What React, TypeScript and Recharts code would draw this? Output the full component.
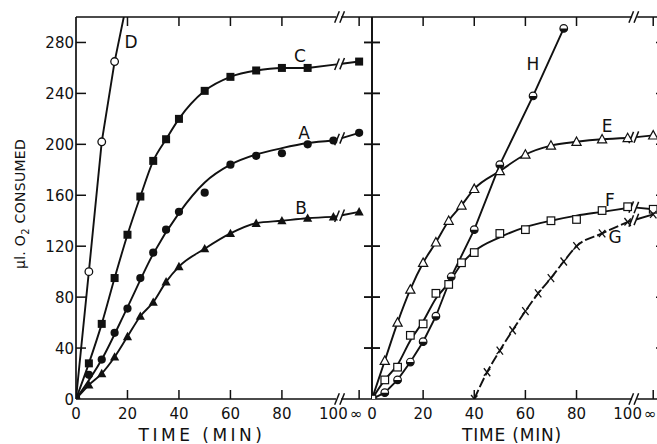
import React from 'react';
import { LineChart, Line, XAxis, YAxis, ReferenceLine } from 'recharts';

// 110 on the time axis stands for the "∞" reading drawn past the break
const INF = 110;
const X_DOMAIN: [number, number] = [0, 115];
const Y_DOMAIN: [number, number] = [0, 300];
const Y_TICKS = [0, 40, 80, 120, 160, 200, 240, 280];
const X_TICKS = [0, 20, 40, 60, 80, 100, INF];
const X_MARKS = [20, 40, 60, 80, INF];

// left panel
const D_TIME = [0, 5, 10, 15, 20];
const D_O2 = [0, 100, 202, 265, 314];

const C_TIME = [0, 5, 10, 15, 20, 25, 30, 35, 40, 50, 60, 70, 80, 90];
const C_O2 = [0, 28, 59, 95, 129, 159, 187, 204, 220, 242, 253, 258, 260, 260];
const C_INF = 265;

const A_TIME = [0, 5, 10, 15, 20, 25, 30, 35, 40, 50, 60, 70, 80, 90, 100];
const A_O2 = [0, 19, 31, 52, 71, 95, 115, 133, 147, 162, 184, 191, 193, 200, 203];
const A_INF = 209;
// smooth curve drawn through A (misses the points at 50 and 80)
const A_FIT_TIME = [0, 10, 20, 30, 40, 50, 60, 70, 80, 90, 100];
const A_FIT_O2 = [0, 31, 72, 114, 146, 170, 184, 192, 197, 201, 203];

const B_TIME = [0, 5, 10, 15, 20, 25, 30, 35, 40, 50, 60, 70, 80, 90, 100];
const B_O2 = [0, 11, 20, 33, 49, 65, 76, 92, 104, 118, 130, 138, 140, 142, 143];
const B_INF = 147;

// right panel
const E_TIME = [0, 5, 10, 15, 20, 25, 30, 35, 40, 50, 60, 70, 80, 90, 100];
const E_O2 = [0, 30, 60, 86, 107, 123, 140, 152, 165, 179, 192, 199, 202, 204, 205];
const E_INF = 207;

const F_TIME = [0, 5, 10, 15, 20, 25, 30, 35, 40, 50, 60, 70, 80, 90, 100];
const F_O2 = [0, 15, 25, 50, 59, 83, 90, 107, 115, 130, 133, 140, 141, 148, 151];
const F_INF = 149;
// smooth curve drawn through F
const F_FIT_TIME = [0, 5, 10, 15, 20, 25, 30, 35, 40, 50, 60, 70, 80, 90, 100];
const F_FIT_O2 = [0, 15, 27, 46, 61, 79, 91, 106, 116, 127, 135, 140, 144, 147, 150];

const H_TIME = [0, 5, 10, 15, 20, 25, 31, 40, 50, 63, 75];
const H_O2 = [0, 5, 15, 29, 45, 65, 96, 133, 184, 238, 291];

const G_TIME = [40, 45, 50, 55, 60, 65, 70, 75, 80, 90, 100];
const G_O2 = [0, 21, 38, 54, 69, 83, 95, 108, 120, 130, 139];
const G_INF = 145;

const FONT = '"DejaVu Sans", sans-serif';
const INK = '#111';
const LW = 1.9;
const PX = 2.565; // px per minute, both panels
const BREAK_1 = 101.4;
const BREAK_2 = 103.4;

const toPoints = (t: number[], v: number[]) => t.map((x, i) => ({ x, y: v[i] }));
const tailOf = (t: number[], v: number[], inf: number) => [
  { x: t[t.length - 1], y: v[v.length - 1] },
  { x: INF, y: inf },
];
const gapDash = (from: number) =>
  `${((BREAK_1 - from) * PX).toFixed(1)} ${((BREAK_2 - BREAK_1) * PX).toFixed(1)} 999`;

// "//" marks across a broken line
const slashes = (key: string, x0: number, y0: number, y1: number) =>
  [BREAK_1, BREAK_2].map((bx, i) => {
    const yb = y0 + ((y1 - y0) * (bx - x0)) / (INF - x0);
    return (
      <ReferenceLine
        key={key + i}
        segment={[
          { x: bx - 0.9, y: yb - 4.5 },
          { x: bx + 0.9, y: yb + 4.5 },
        ]}
        stroke={INK}
        strokeWidth={1.5}
        ifOverflow="visible"
      />
    );
  });

// markers
const openCircle = (p: any) => (
  <circle key={p.index} cx={p.cx} cy={p.cy} r={3.8} fill="#fff" stroke={INK} strokeWidth={1.3} />
);
const dotCircle = (p: any) => <circle key={p.index} cx={p.cx} cy={p.cy} r={4.1} fill={INK} />;
const dotSquare = (p: any) => (
  <rect key={p.index} x={p.cx - 4} y={p.cy - 4} width={8} height={8} fill={INK} />
);
const dotTriangle = (p: any) => (
  <polygon
    key={p.index}
    points={`${p.cx},${p.cy - 4.8} ${p.cx + 4.6},${p.cy + 3.6} ${p.cx - 4.6},${p.cy + 3.6}`}
    fill={INK}
  />
);
const openTriangle = (p: any) => (
  <polygon
    key={p.index}
    points={`${p.cx},${p.cy - 4.8} ${p.cx + 4.6},${p.cy + 3.6} ${p.cx - 4.6},${p.cy + 3.6}`}
    fill="#fff"
    stroke={INK}
    strokeWidth={1.2}
  />
);
const openSquare = (p: any) => (
  <rect key={p.index} x={p.cx - 3.8} y={p.cy - 3.8} width={7.6} height={7.6} fill="#fff" stroke={INK} strokeWidth={1.2} />
);
const halfCircle = (p: any) => (
  <g key={p.index}>
    <circle cx={p.cx} cy={p.cy} r={3.8} fill="#fff" stroke={INK} strokeWidth={1.2} />
    <path d={`M${p.cx - 3.8},${p.cy} A3.8,3.8 0 0 0 ${p.cx + 3.8},${p.cy} Z`} fill={INK} />
  </g>
);
const cross = (p: any) => (
  <g key={p.index} stroke={INK} strokeWidth={1.3}>
    <line x1={p.cx - 3.2} y1={p.cy - 4} x2={p.cx + 3.2} y2={p.cy + 4} />
    <line x1={p.cx - 3.2} y1={p.cy + 3.5} x2={p.cx + 3.2} y2={p.cy - 3.5} />
  </g>
);
const lastOnly = (shape: (p: any) => React.ReactElement) => (p: any) =>
  p.index === 1 ? shape(p) : <g key={p.index} />;

// ticks (all drawn inward)
const tickText = { fontFamily: FONT, fontSize: 15, fill: INK };

const BottomTick = (props: any) => {
  const { x, y, payload } = props;
  const v = payload.value;
  return (
    <g>
      {X_MARKS.includes(v) && <line x1={x} x2={x} y1={y} y2={y - 9} stroke={INK} strokeWidth={1.5} />}
      <text x={v === INF ? x - 3 : x} y={y + 20} textAnchor="middle" {...tickText}>
        {v === INF ? '∞' : v}
      </text>
    </g>
  );
};
const TopTick = (props: any) => {
  const { x, y, payload } = props;
  if (!X_MARKS.includes(payload.value)) return <g />;
  return <line x1={x} x2={x} y1={y} y2={y + 9} stroke={INK} strokeWidth={1.5} />;
};
const LeftTick = (props: any) => {
  const { x, y, payload } = props;
  return (
    <g>
      {payload.value > 0 && <line x1={x} x2={x + 10} y1={y} y2={y} stroke={INK} strokeWidth={1.5} />}
      <text x={x - 2} y={y + 5.5} textAnchor="end" {...tickText}>
        {payload.value}
      </text>
    </g>
  );
};
const CrossTick = (props: any) => {
  const { x, y, payload } = props;
  if (payload.value === 0) return <g />;
  return <line x1={x - 8} x2={x + 8} y1={y} y2={y} stroke={INK} strokeWidth={1.5} />;
};
const RightTick = (props: any) => {
  const { x, y, payload } = props;
  if (payload.value === 0) return <g />;
  return <line x1={x - 10} x2={x} y1={y} y2={y} stroke={INK} strokeWidth={1.5} />;
};

const axisLine = { stroke: INK, strokeWidth: 1.7 };
const brokenAxis = { ...axisLine, strokeDasharray: gapDash(0) };

const axisBreaks = (key: string) => [
  ...slashes(key + 'b', 0, 0, 0),
  ...slashes(key + 't', 0, 300, 300),
];

const CHART_W = 700;
const CHART_H = 444;

const axes = (leftTick: any, rightTick: any, leftW: number) => [
  <XAxis
    key="xb"
    type="number"
    dataKey="x"
    domain={X_DOMAIN}
    allowDataOverflow
    ticks={X_TICKS}
    interval={0}
    tickSize={0}
    tickMargin={0}
    tickLine={false}
    tick={<BottomTick />}
    axisLine={brokenAxis}
    height={40}
  />,
  <XAxis
    key="xt"
    xAxisId="top"
    orientation="top"
    type="number"
    dataKey="x"
    domain={X_DOMAIN}
    allowDataOverflow
    ticks={X_TICKS}
    interval={0}
    tickSize={0}
    tickMargin={0}
    tickLine={false}
    tick={<TopTick />}
    axisLine={brokenAxis}
    height={10}
  />,
  <YAxis
    key="yl"
    type="number"
    domain={Y_DOMAIN}
    allowDataOverflow
    ticks={Y_TICKS}
    interval={0}
    tickSize={0}
    tickMargin={0}
    tickLine={false}
    tick={leftTick}
    axisLine={axisLine}
    width={leftW}
  />,
  <YAxis
    key="yr"
    yAxisId="r"
    orientation="right"
    type="number"
    domain={Y_DOMAIN}
    allowDataOverflow
    ticks={Y_TICKS}
    interval={0}
    tickSize={0}
    tickMargin={0}
    tickLine={false}
    tick={rightTick}
    axisLine={axisLine}
    width={10}
  />,
];

const lineProps = {
  dataKey: 'y',
  stroke: INK,
  strokeWidth: LW,
  isAnimationActive: false,
  activeDot: false,
  legendType: 'none' as const,
};

const brokenTail = (key: string, t: number[], v: number[], inf: number, shape: (p: any) => React.ReactElement) => [
  <Line
    key={key}
    {...lineProps}
    type="linear"
    data={tailOf(t, v, inf)}
    strokeDasharray={gapDash(t[t.length - 1])}
    dot={lastOnly(shape)}
  />,
  ...slashes(key + 's', t[t.length - 1], v[v.length - 1], inf),
];

const abs: React.CSSProperties = { position: 'absolute', left: 0, top: 0 };

const labelStyle = { fontFamily: FONT, fontSize: 17, fill: INK, textAnchor: 'middle' as const };

export default function App() {
  return (
    <div style={{ position: 'relative', width: 657, height: 444, overflow: 'hidden', background: '#fff' }}>
      <style>{`body { margin: 0; }`}</style>

      {/* left panel: D, C, A, B */}
      <div style={abs}>
        <LineChart width={CHART_W} height={CHART_H} margin={{ top: 7, right: 318, bottom: 5, left: 36 }}>
          {axes(<LeftTick />, <CrossTick />, 40)}
          {axisBreaks('lax')}
          <Line {...lineProps} type="linear" data={toPoints(D_TIME, D_O2)} dot={openCircle} />
          <Line {...lineProps} type="monotone" data={toPoints(C_TIME, C_O2)} dot={dotSquare} />
          {brokenTail('ct', C_TIME, C_O2, C_INF, dotSquare)}
          <Line {...lineProps} type="monotone" data={toPoints(A_FIT_TIME, A_FIT_O2)} dot={false} />
          <Line {...lineProps} type="monotone" strokeWidth={0} data={toPoints(A_TIME, A_O2)} dot={dotCircle} />
          {brokenTail('at', A_TIME, A_O2, A_INF, dotCircle)}
          <Line {...lineProps} type="monotone" data={toPoints(B_TIME, B_O2)} dot={dotTriangle} />
          {brokenTail('bt', B_TIME, B_O2, B_INF, dotTriangle)}
        </LineChart>
      </div>

      {/* right panel: H, E, F, G */}
      <div style={abs}>
        <LineChart width={CHART_W} height={CHART_H} margin={{ top: 7, right: 24, bottom: 5, left: 362 }}>
          {axes(<CrossTick />, <RightTick />, 10)}
          {axisBreaks('rax')}
          <Line {...lineProps} type="linear" data={toPoints(H_TIME, H_O2)} dot={halfCircle} />
          <Line {...lineProps} type="monotone" data={toPoints(E_TIME, E_O2)} dot={openTriangle} />
          {brokenTail('et', E_TIME, E_O2, E_INF, openTriangle)}
          <Line {...lineProps} type="monotone" data={toPoints(F_FIT_TIME, F_FIT_O2)} dot={false} />
          <Line {...lineProps} type="monotone" strokeWidth={0} data={toPoints(F_TIME, F_O2)} dot={openSquare} />
          {brokenTail('ft', F_TIME, F_O2, F_INF, openSquare)}
          <Line {...lineProps} type="monotone" strokeDasharray="10 3" data={toPoints(G_TIME, G_O2)} dot={cross} />
          {brokenTail('gt', G_TIME, G_O2, G_INF, cross)}
        </LineChart>
      </div>

      {/* titles and curve letters */}
      <svg width={657} height={444} style={{ ...abs, pointerEvents: 'none' }}>
        <text
          transform="translate(25,204) rotate(-90)"
          textAnchor="middle"
          fontFamily={FONT}
          fontSize={14}
          letterSpacing={0.3}
          fill={INK}
        >
          μl. O<tspan dy={4} fontSize={10}>2</tspan>
          <tspan dy={-4}> CONSUMED</tspan>
        </text>
        <text x={202} y={441} textAnchor="middle" fontFamily={FONT} fontSize={17} letterSpacing={3.5} fill={INK}>
          TIME (MIN)
        </text>
        <text x={512} y={441} textAnchor="middle" fontFamily={FONT} fontSize={17} letterSpacing={0.8} fill={INK}>
          TIME (MIN)
        </text>
        <text x={131} y={48} {...labelStyle}>D</text>
        <text x={300} y={62} {...labelStyle}>C</text>
        <text x={304} y={139} {...labelStyle}>A</text>
        <text x={301} y={214} {...labelStyle}>B</text>
        <text x={533} y={70} {...labelStyle}>H</text>
        <text x={607} y={132} {...labelStyle}>E</text>
        <text x={610} y={206} {...labelStyle}>F</text>
        <text x={615} y={243} {...labelStyle}>G</text>
      </svg>
    </div>
  );
}
